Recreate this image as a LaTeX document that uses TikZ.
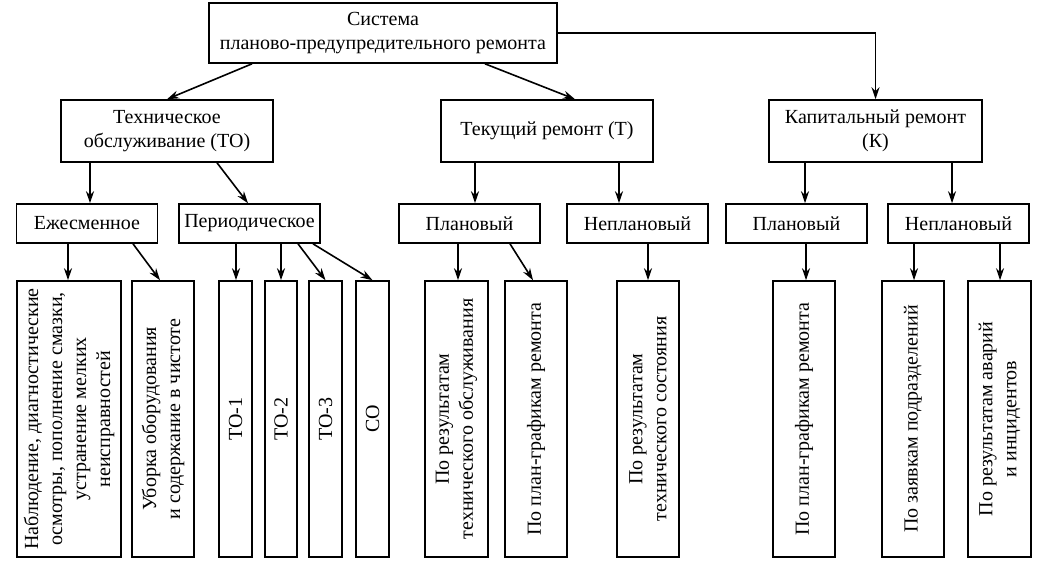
\documentclass[tikz,border=0pt]{standalone}
\usepackage{fontspec}
\setmainfont{Liberation Serif}
\usetikzlibrary{arrows.meta}

\begin{document}
\begin{tikzpicture}[x=0.5pt, y=-0.5pt, line width=0.8pt,
    >={Stealth[length=6pt,width=4pt]},
    box/.style={draw, inner sep=0pt, align=center, font=\fontsize{10}{12}\selectfont},
    mid/.style={box, minimum width=70.5pt, minimum height=19.5pt},
    up/.style={box, rotate=90, minimum width=138pt}]
    \useasboundingbox (0,0) rectangle (1042,564);
    \node[box, minimum width=174pt, minimum height=30pt] (a) at (383, 33) {Система\\планово-предупредительного ремонта};
    \node[box, minimum width=106pt, minimum height=31pt] (b) at (167, 131) {Техническое\\обслуживание (ТО)};
    \node[box, minimum width=106pt, minimum height=31pt] (c) at (547, 131) {Текущий ремонт (Т)};
    \node[box, minimum width=106.5pt, minimum height=31pt] (d) at (875.5, 131) {Капитальный ремонт\\(К)};
    \node[mid] (e) at (87, 223.5) {Ежесменное};
    \node[mid] (f) at (249.5, 223.5) {Периодическое};
    \node[mid] (g) at (469.5, 223.5) {Плановый};
    \node[mid] (h) at (637.5, 223.5) {Неплановый};
    \node[mid] (i) at (796.5, 223.5) {Плановый};
    \node[mid] (j) at (958.5, 223.5) {Неплановый};
    \node[up, minimum height=52pt] (k) at (69, 419) {Наблюдение, диагностические\\осмотры, пополнение смазки,\\устранение мелких\\неисправностей};
    \node[up, minimum height=31pt] (l) at (163, 419) {Уборка оборудования\\и содержание в чистоте};
    \node[up, minimum height=16.5pt] (m) at (235.5, 419) {ТО-1};
    \node[up, minimum height=16pt] (n) at (281, 419) {ТО-2};
    \node[up, minimum height=16.5pt] (o) at (325.5, 419) {ТО-3};
    \node[up, minimum height=16.5pt] (p) at (372.5, 419) {СО};
    \node[up, minimum height=31.5pt] (q) at (456.5, 419) {По результатам\\технического обслуживания};
    \node[up, minimum height=31pt] (r) at (536, 419) {По план-графикам ремонта};
    \node[up, minimum height=31pt] (s) at (648, 419) {По результатам\\технического состояния};
    \node[up, minimum height=31pt] (t) at (804, 419) {По план-графикам ремонта};
    \node[up, minimum height=31pt] (u) at (913, 419) {По заявкам подразделений};
    \node[up, minimum height=31.5pt] (v) at (999.5, 419) {По результатам аварий\\и инцидентов};
    \draw [->] ([xshift=-65.5pt]a.south) to (b.north);
    \draw [->] ([xshift=51pt]a.south) to ([xshift=14pt]c.north);
    \draw [->] (a.east) -| (d.north);
    \draw [->] ([xshift=-38.5pt]b.south) to ([xshift=1.5pt]e.north);
    \draw [->] ([xshift=25pt]b.south) to ([xshift=-0.75pt]f.north);
    \draw [->] ([xshift=-36pt]c.south) to ([xshift=2.75pt]g.north);
    \draw [->] ([xshift=36pt]c.south) to ([xshift=-9.25pt]h.north);
    \draw [->] ([xshift=-35.25pt]d.south) to ([xshift=4.25pt]i.north);
    \draw [->] ([xshift=38.25pt]d.south) to ([xshift=-3.25pt]j.north);
    \draw [->] ([xshift=-9.5pt]e.south) to ([xshift=-0.5pt]k.east);
    \draw [->] ([xshift=23pt]e.south) to ([xshift=-1.5pt]l.east);
    \draw [->] ([xshift=-6.75pt]f.south) to ([xshift=0.25pt]m.east);
    \draw [->] ([xshift=15.75pt]f.south) to (n.east);
    \draw [->] ([xshift=24.25pt]f.south) to (o.east);
    \draw [->] ([xshift=31.75pt]f.south) to (p.east);
    \draw [->] ([xshift=-5.75pt]g.south) to ([xshift=0.75pt]q.east);
    \draw [->] ([xshift=20.25pt]g.south) to ([xshift=-1.5pt]r.east);
    \draw [->] ([xshift=5.25pt]h.south) to (s.east);
    \draw [->] ([xshift=4.75pt]i.south) to ([xshift=1pt]t.east);
    \draw [->] ([xshift=-22.25pt]j.south) to ([xshift=0.5pt]u.east);
    \draw [->] ([xshift=20.75pt]j.south) to ([xshift=0.25pt]v.east);
\end{tikzpicture}
\end{document}
